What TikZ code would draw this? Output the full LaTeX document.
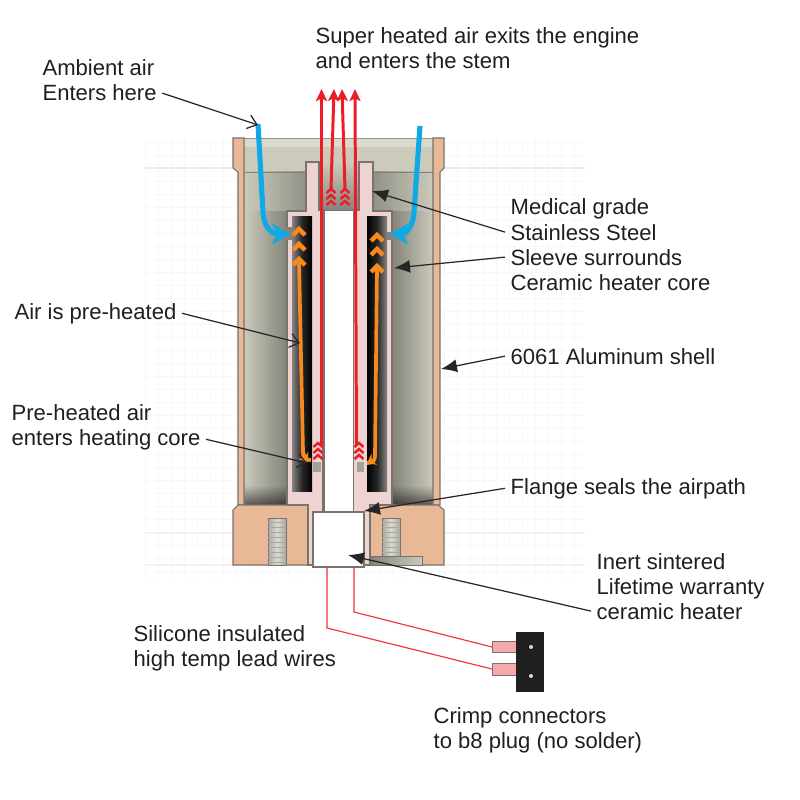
\documentclass[tikz,border=0pt]{standalone}
\usepackage{fontspec}
\setmainfont{Liberation Sans}
\usetikzlibrary{arrows.meta,fadings}
\definecolor{shellcol}{HTML}{E9B896}
\definecolor{sleevecol}{HTML}{EFD3D3}
\definecolor{edgecol}{HTML}{77736F}
\definecolor{chambercol}{HTML}{CBCABB}
\definecolor{chamberdark}{HTML}{83837A}
\definecolor{bluecol}{HTML}{0FA9E6}
\definecolor{redcol}{HTML}{EE1C25}
\definecolor{orangecol}{HTML}{F7891F}
\definecolor{gridcol}{HTML}{F8F8F8}
\definecolor{gridpink}{HTML}{FBEEEB}
\definecolor{termcol}{HTML}{F7A8AB}
\tikzset{
  lbl/.style={anchor=base west,inner sep=3pt,font=\fontsize{12.55}{14}\selectfont,text=black!88},
  leader/.style={draw=black!85,line width=.7pt,-{Latex[length=3.2mm,width=2.6mm]}},
  openleader/.style={draw=black!85,line width=.7pt,-{Straight Barb[length=1.8mm,width=2.8mm]}},
  shellpart/.style={fill=shellcol,draw=edgecol,line width=.6pt},
  sleevepart/.style={fill=sleevecol,draw=edgecol,line width=.6pt},
  airblue/.style={draw=bluecol,line width=2.9pt,line join=round,-{Stealth[length=3.6mm,width=4.2mm,inset=1mm]}},
  airred/.style={draw=redcol,line width=1.7pt,-{Stealth[length=2.4mm,width=2.2mm,inset=.5mm]}},
  airorange/.style={draw=orangecol,line width=2.1pt,line join=round},
  chevorange/.style={draw=orangecol,line width=2.5pt,line join=miter},
  chevred/.style={draw=redcol,line width=1.4pt,line join=miter},
  wire/.style={draw=redcol!90!white,line width=.65pt}
}
\begin{document}
\begin{tikzpicture}[x=.02cm,y=-.02cm]
  \useasboundingbox (0,0) rectangle (800,800);
  % grid behind the part
  \foreach \gx in {145,158,...,585} \draw[gridcol,line width=.3pt] (\gx,138) -- (\gx,578);
  \foreach \gy in {142,155,...,578} \draw[gridcol,line width=.3pt] (145,\gy) -- (585,\gy);
  \draw[gridcol!95!black,line width=.6pt] (145,168) -- (585,168);
  \draw[gridpink,line width=.6pt] (145,533) -- (585,533);
  \draw[gridpink,line width=1.4pt] (145,565) -- (585,565);
  % inside of the shell
  \fill[chambercol] (244,140) rectangle (433,505);
  \shade[left color=chambercol,right color=chamberdark] (244,211) rectangle (287,505);
  \shade[left color=chamberdark,right color=chambercol] (392,211) rectangle (433,505);
  \shade[left color=chambercol,right color=chamberdark!80!chambercol] (244,172) rectangle (306,211);
  \shade[left color=chamberdark!80!chambercol,right color=chambercol] (373,172) rectangle (433,211);
  \shade[top color=chambercol,bottom color=chamberdark] (319,162) rectangle (359,211);
  \fill[black,opacity=.55,path fading=north] (244,485) rectangle (287,505);
  \fill[black,opacity=.55,path fading=north] (392,485) rectangle (433,505);
  \fill[chambercol!70!white] (238,138) rectangle (440,147);
  \draw[edgecol!80!white,line width=.5pt] (233,138) -- (444,138);
  \draw[chamberdark,line width=.4pt] (244,172) -- (306,172) (373,172) -- (433,172);
  % shell
  \draw[shellpart] (233,138) -- (244,138) -- (244,505) -- (238,505) -- (238,172) -- (233,168) -- cycle;
  \draw[shellpart] (444,138) -- (433,138) -- (433,505) -- (440,505) -- (440,172) -- (444,168) -- cycle;
  \draw[shellpart] (238,505) -- (308,505) -- (308,565) -- (233,565) -- (233,510) -- cycle;
  \draw[shellpart] (370,505) -- (438,505) -- (444,510) -- (444,565) -- (370,565) -- cycle;
  % screw holes
  \shade[left color=chamberdark!70!white,right color=chamberdark!70!white,middle color=chambercol!70!white,draw=edgecol] (268,518) rectangle (286,565);
  \shade[left color=chamberdark!70!white,right color=chamberdark!70!white,middle color=chambercol!70!white,draw=edgecol] (382,518) rectangle (400,556);
  \shade[left color=chamberdark,right color=chambercol,draw=edgecol] (370,556) rectangle (422,565);
  \foreach \ty in {522,527,...,562} \draw[chamberdark!70!white,line width=.3pt] (268,\ty) -- (286,\ty);
  \foreach \ty in {522,527,...,552} \draw[chamberdark!70!white,line width=.3pt] (382,\ty) -- (400,\ty);
  % sleeve
  \draw[sleevepart] (306,162) -- (319,162) -- (319,210) -- (323,210) -- (323,512) -- (313,512) -- (313,565) -- (308,565) -- (308,505) -- (287,505) -- (287,211) -- (306,211) -- cycle;
  \draw[sleevepart] (373,162) -- (359,162) -- (359,210) -- (353,210) -- (353,512) -- (364,512) -- (364,565) -- (370,565) -- (370,505) -- (392,505) -- (392,211) -- (373,211) -- cycle;
  % cavities
  \shade[left color=black!48,right color=black,middle color=black!85] (292,217) rectangle (312,491);
  \shade[left color=black,right color=black!48,middle color=black!85] (367,217) rectangle (387,491);
  \fill[chamberdark] (285,227) rectangle (292,240);
  \fill[chamberdark] (387,232) rectangle (393,240);
  \fill[chambercol!80!black] (313,462) rectangle (321,472);
  \fill[chambercol!80!black] (357,462) rectangle (364,472);
  % core and heater
  \fill[white] (324,210) rectangle (353,513);
  \draw[edgecol,line width=.5pt] (324,211) -- (324,512) (353,211) -- (353,512) (319,210.5) -- (359,210.5);
  \draw[fill=white,draw=edgecol,line width=.7pt] (313,512) rectangle (364,567);
  % air paths
  \coordinate (bluetipl) at (290,234);
  \coordinate (bluetipr) at (390,234);
  \draw[airblue] (258,124) -- (263,212) .. controls (264,228) and (272,234) .. (bluetipl);
  \draw[airblue] (420,126) -- (414,212) .. controls (413,228) and (405,234) .. (bluetipr);
  \draw[airorange] (299,262) -- (303,452) .. controls (303,458) and (305,460) .. (311,460);
  \draw[airorange] (377,268) -- (375,456) .. controls (375,461) and (373,463) .. (367,463);
  \foreach \cy in {229,244,259} \draw[chevorange] (293,\cy+6) -- (299,\cy) -- (305,\cy+6);
  \foreach \cy in {235,249,266} \draw[chevorange] (371,\cy+6) -- (377,\cy) -- (383,\cy+6);
  \draw[airorange,-{Stealth[length=1.6mm,width=2.4mm]}] (303,452) -- (305,458) -- (308,462);
  \draw[airorange,-{Stealth[length=1.6mm,width=2.4mm]}] (373,460) -- (367,463);
  \draw[airred] (321.5,445) -- (321.5,89);
  \draw[airred] (356.5,445) -- (355,89);
  \draw[airred] (331,190) -- (334,89);
  \draw[airred] (345,190) -- (342,89);
  \foreach \cx in {331,345} \foreach \cy in {189,195,201} \draw[chevred] (\cx-4.5,\cy+4) -- (\cx,\cy) -- (\cx+4.5,\cy+4);
  \foreach \cx in {318,359} \foreach \cy in {443,449,455} \draw[chevred] (\cx-4.5,\cy+4) -- (\cx,\cy) -- (\cx+4.5,\cy+4);
  % lead wires and plug
  \node[draw=edgecol,fill=termcol,minimum width=.5cm,minimum height=.22cm,inner sep=0pt,anchor=west] (termup) at (492,647) {};
  \node[draw=edgecol,fill=termcol,minimum width=.5cm,minimum height=.24cm,inner sep=0pt,anchor=west] (termlow) at (492,669) {};
  \node[fill=black!88,minimum width=.56cm,minimum height=1.2cm,inner sep=0pt,anchor=north west] (plug) at (516,632) {};
  \fill[white!85!black] (531,647) circle (2);
  \fill[white!85!black] (531,676) circle (2);
  \draw[wire] (354,567) -- (354,612) -- (termup.west);
  \draw[wire] (327,567) -- (327,628) -- (termlow.west);
  % labels
  \node[lbl] (superair) at (310,44) {Super heated air exits the engine};
  \node[lbl] (enterstem) at (310,69) {and enters the stem};
  \node[lbl] (ambient) at (37,76) {Ambient air};
  \node[lbl] (entershere) at (37,101) {Enters here};
  \node[lbl] (medical) at (505,215) {Medical grade};
  \node[lbl] (stainless) at (505,240) {Stainless Steel};
  \node[lbl] (sleeve) at (505,265) {Sleeve surrounds};
  \node[lbl] (ceramic) at (505,290) {Ceramic heater core};
  \node[lbl] (airpre) at (9,319) {Air is pre-heated};
  \node[lbl] (alushell) at (505,364) {6061 Aluminum shell};
  \node[lbl] (preheated) at (6,420) {Pre-heated air};
  \node[lbl] (heatcore) at (6,445) {enters heating core};
  \node[lbl] (flange) at (505,494) {Flange seals the airpath};
  \node[lbl] (inert) at (591,569) {Inert sintered};
  \node[lbl] (lifetime) at (591,594) {Lifetime warranty};
  \node[lbl] (heater) at (591,619) {ceramic heater};
  \node[lbl] (silicone) at (128,641) {Silicone insulated};
  \node[lbl] (hightemp) at (128,666) {high temp lead wires};
  \node[lbl] (crimp) at (428,723) {Crimp connectors};
  \node[lbl] (bplug) at (428,748) {to b8 plug (no solder)};
  % leaders
  \coordinate (ambientend) at (258,125);
  \coordinate (stemwall) at (372,191);
  \coordinate (sleevewall) at (394,268);
  \coordinate (orangeline) at (300,343);
  \coordinate (shellwall) at (441,369);
  \coordinate (portlow) at (307,463);
  \coordinate (flangeend) at (364,511);
  \coordinate (heaterend) at (348,555);
  \draw[openleader] (entershere.east) -- (ambientend);
  \draw[leader] (stainless.west) -- (stemwall);
  \draw[leader] (sleeve.west) -- (sleevewall);
  \draw[openleader] (airpre.east) -- (orangeline);
  \draw[leader] (alushell.west) -- (shellwall);
  \draw[openleader] (heatcore.east) -- (portlow);
  \draw[leader] (flange.west) -- (flangeend);
  \draw[leader] (heater.west) -- (heaterend);
\end{tikzpicture}
\end{document}
